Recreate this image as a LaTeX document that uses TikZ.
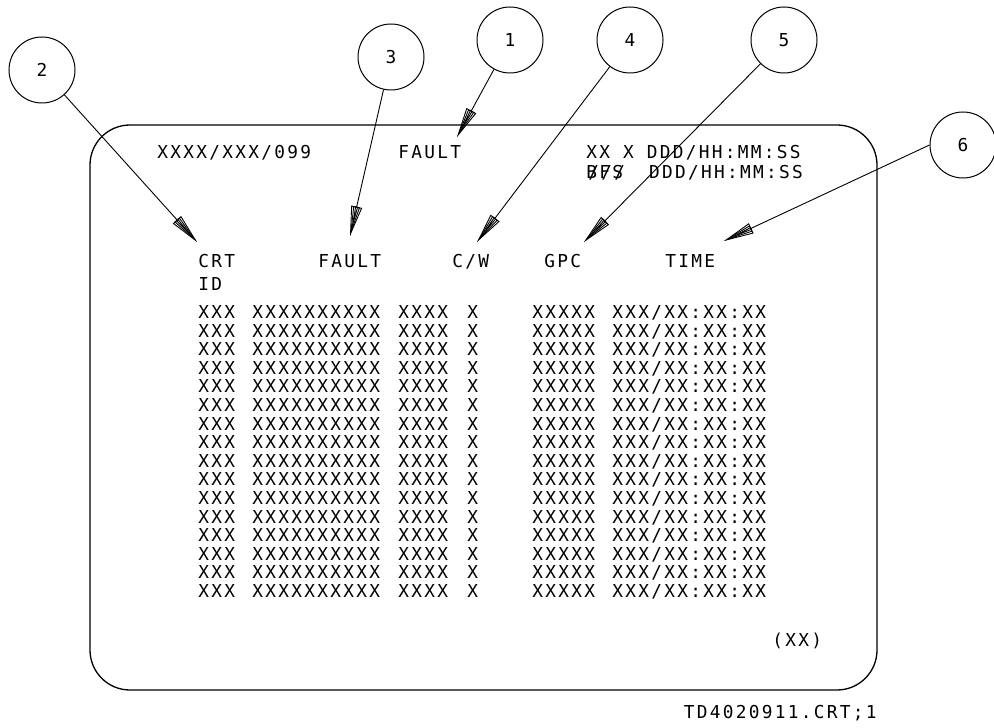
\documentclass[tikz,border=0pt]{standalone}
\usepackage{fontspec}
\usepackage{tikz}
\usetikzlibrary{arrows.meta}
\newfontfamily\crtfont{DejaVu Sans Mono}[LetterSpace=12.8]
\newcommand{\crtsize}{\crtfont\fontsize{8.9}{10}\selectfont}

\begin{document}
\begin{tikzpicture}[
  x=0.5pt, y=-0.5pt,
  crt/.style={font=\crtsize, inner sep=0pt, anchor=base west},
  callout/.style={circle, draw, line width=0.5pt, minimum size=33pt, inner sep=0pt, font=\crtsize},
  leader/.style={line width=0.45pt, -{Triangle[open,length=15pt,width=5.5pt,sep=-15pt]Triangle[open,length=15pt,width=3.3pt,sep=-15pt]Triangle[open,length=15pt,width=1.3pt]}}
]
  \useasboundingbox (0,0) rectangle (994,727);

  % screen outline
  \draw[line width=0.65pt, rounded corners=20pt] (90,125) rectangle (877,690);

  % header lines
  \node[crt] (hdr)   at (157,158.5) {XXXX/XXX/099};
  \node[crt] (title) at (398,158.5) {FAULT};
  \node[crt] (gmt)   at (586,158.5) {XX X DDD/HH:MM:SS};
  \node[crt] (met)   at (586,178.5) {BFS~~DDD/HH:MM:SS};
  \node[crt] (metx)  at (588,178.5) {///};

  % column headings
  \node[crt] (hcrt)  at (198,267.5) {CRT};
  \node[crt] (hid)   at (198,290.5) {ID};
  \node[crt] (hflt)  at (318,267.5) {FAULT};
  \node[crt] (hcw)   at (452,267.5) {C/W};
  \node[crt] (hgpc)  at (544,267.5) {GPC};
  \node[crt] (htime) at (665,267.5) {TIME};

  % fault message lines
  \foreach \r [evaluate=\r as \yy using 318.5+18.6*\r] in {0,...,15} {
    \node[crt] (id\r)  at (198,\yy) {XXX};
    \node[crt] (flt\r) at (252,\yy) {XXXXXXXXXX};
    \node[crt] (cw\r)  at (398,\yy) {XXXX};
    \node[crt] (cwx\r) at (467,\yy) {X};
    \node[crt] (gpc\r) at (532,\yy) {XXXXX};
    \node[crt] (tm\r)  at (612,\yy) {XXX/XX:XX:XX};
  }

  \node[crt] (page) at (772,646.5) {(XX)};
  \node[crt, anchor=base east] (ref) at (877,718) {TD4020911.CRT;1};

  % callouts
  \node[callout] (c1) at (510,40)  {1};
  \node[callout] (c2) at (42,70)   {2};
  \node[callout] (c3) at (391,57)  {3};
  \node[callout] (c4) at (630,40)  {4};
  \node[callout] (c5) at (784,40)  {5};
  \node[callout] (c6) at (963,145) {6};

  \coordinate (t1) at (457,137);
  \coordinate (t2) at (197,242);
  \coordinate (t3) at (350,236);
  \coordinate (t4) at (477,242);
  \coordinate (t5) at (584,242);
  \coordinate (t6) at (724,241);

  \draw[leader] (c1) -- (t1);
  \draw[leader] (c2) -- (t2);
  \draw[leader] (c3) -- (t3);
  \draw[leader] (c4) -- (t4);
  \draw[leader] (c5) -- (t5);
  \draw[leader] (c6.west) -- (t6);
\end{tikzpicture}
\end{document}
